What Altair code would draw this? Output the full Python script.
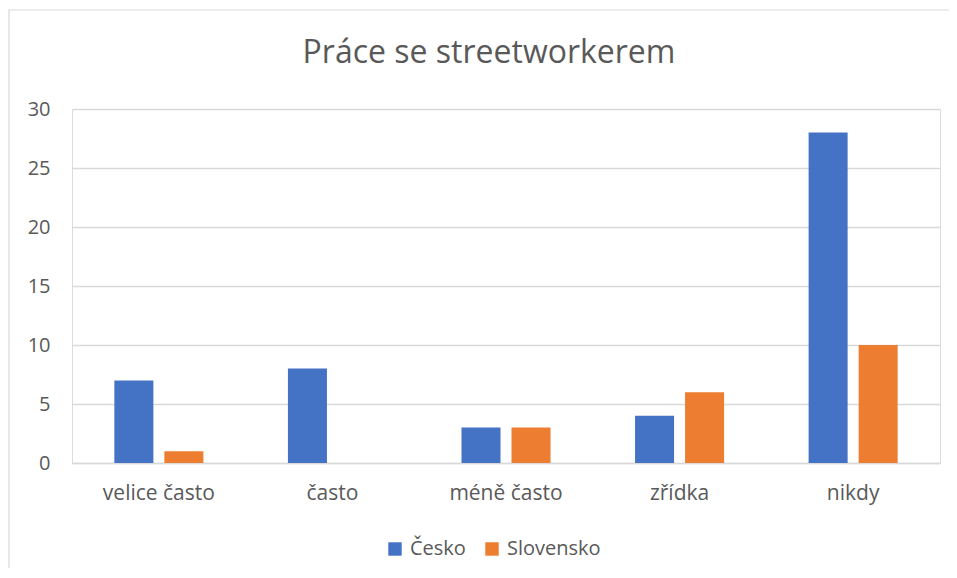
import altair as alt
import pandas as pd

categories = ["velice často", "často", "méně často", "zřídka", "nikdy"]
cesko = [7, 8, 3, 4, 28]
slovensko = [1, 0, 3, 6, 10]
series = ["Česko", "Slovensko"]
colors = ["#4472C4", "#ED7D31"]

rows = []
for c, a, b in zip(categories, cesko, slovensko):
    rows.append({"kategorie": c, "zeme": series[0], "hodnota": a})
    rows.append({"kategorie": c, "zeme": series[1], "hodnota": b})
df = pd.DataFrame(rows)

FONT = "Open Sans"
W, H = 868, 354

border = alt.Chart(pd.DataFrame({"k": [0]})).mark_rect(
    fill=None, stroke="#D9D9D9", strokeWidth=1.2, clip=False
).encode(
    x=alt.value(-63), x2=alt.value(W + 60),
    y=alt.value(-99), y2=alt.value(H + 150)
)

bars = alt.Chart(df).mark_bar().encode(
    x=alt.X("kategorie:N", sort=categories, title=None,
            scale=alt.Scale(paddingInner=0.487, paddingOuter=0.244),
            axis=alt.Axis(labelAngle=0, ticks=False, domainColor="#D9D9D9",
                          domainWidth=1.3, labelPadding=19, labelFontSize=21,
                          labelColor="#595959", labelFont=FONT)),
    xOffset=alt.XOffset("zeme:N", sort=series,
                        scale=alt.Scale(paddingInner=0.22, paddingOuter=0)),
    y=alt.Y("hodnota:Q", title=None,
            scale=alt.Scale(domain=[0, 30]),
            axis=alt.Axis(values=[0, 5, 10, 15, 20, 25, 30], ticks=False, domain=False,
                          gridColor="#D9D9D9", gridWidth=1.3, labelPadding=22,
                          labelFontSize=20, labelColor="#595959", labelFont=FONT)),
    color=alt.Color("zeme:N", sort=series, title=None,
                    scale=alt.Scale(domain=series, range=colors),
                    legend=alt.Legend(orient="none", direction="horizontal",
                                      legendX=313, legendY=430,
                                      symbolType="square", symbolSize=180,
                                      symbolStrokeWidth=0, columnPadding=16,
                                      labelFontSize=20, labelColor="#595959",
                                      labelFont=FONT, labelOffset=5)),
)

chart = alt.layer(border, bars).properties(
    width=W, height=H,
    title=alt.Title("Práce se streetworkerem", fontSize=32, font=FONT,
                    color="#595959", fontWeight="normal", anchor="middle",
                    offset=-61, dx=-17),
    autosize=alt.AutoSizeParams(type="none"),
    padding={"left": 64, "top": 101, "right": 9, "bottom": 105},
).configure_view(stroke=None).configure(background="white")

chart.save("out.html", embed_options={"renderer": "svg", "actions": False})
